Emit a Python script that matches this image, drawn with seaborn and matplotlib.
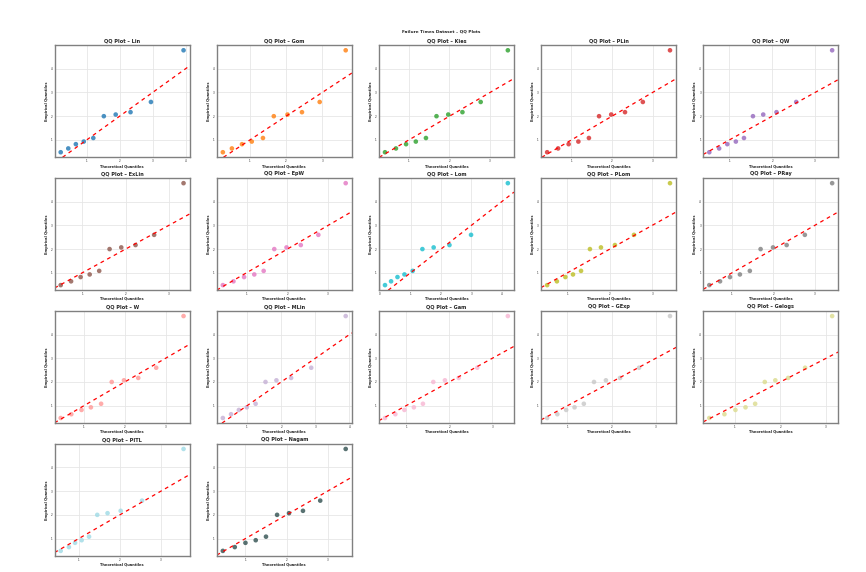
import matplotlib
matplotlib.use("Agg")
import matplotlib.pyplot as plt
import seaborn as sns
import pandas as pd
from matplotlib.ticker import MultipleLocator

# sorted failure times (empirical quantiles, same for every model)
empirical = [0.48, 0.64, 0.82, 0.93, 1.08, 2.00, 2.07, 2.17, 2.60, 4.78]

models = ["Lin", "Gom", "Kies", "PLin", "QW",
          "ExLin", "EpW", "Lom", "PLom", "PRay",
          "W", "MLin", "Gam", "GExp", "Gelogs",
          "PITL", "Nagam"]

# theoretical quantiles
q_lin = [0.21, 0.44, 0.67, 0.91, 1.20, 1.52, 1.88, 2.33, 2.95, 3.94]
q_gom = [0.25, 0.50, 0.78, 1.05, 1.36, 1.66, 2.04, 2.44, 2.93, 3.65]
q_kies = [0.41, 0.68, 0.93, 1.17, 1.42, 1.68, 1.97, 2.32, 2.77, 3.44]
q_plin = [0.40, 0.67, 0.93, 1.17, 1.43, 1.68, 1.98, 2.32, 2.76, 3.43]
q_qw = [0.53, 0.76, 0.95, 1.15, 1.34, 1.55, 1.79, 2.10, 2.56, 3.40]
q_exlin = [0.50, 0.74, 0.96, 1.17, 1.39, 1.63, 1.90, 2.23, 2.66, 3.34]
q_epw = [0.42, 0.68, 0.94, 1.19, 1.42, 1.68, 1.98, 2.33, 2.76, 3.43]
q_lom = [0.16, 0.36, 0.57, 0.80, 1.07, 1.39, 1.76, 2.28, 2.99, 4.20]
q_plom = [0.52, 0.75, 0.95, 1.13, 1.32, 1.53, 1.79, 2.12, 2.57, 3.42]
q_pray = [0.45, 0.71, 0.95, 1.19, 1.43, 1.69, 1.99, 2.32, 2.76, 3.42]
q_w = [0.43, 0.69, 0.94, 1.17, 1.42, 1.68, 1.98, 2.33, 2.77, 3.44]
q_mlin = [0.29, 0.53, 0.76, 0.99, 1.25, 1.54, 1.86, 2.29, 2.88, 3.89]
q_gam = [0.51, 0.75, 0.96, 1.18, 1.39, 1.63, 1.90, 2.22, 2.65, 3.36]
q_gexp = [0.54, 0.77, 0.97, 1.16, 1.37, 1.60, 1.87, 2.19, 2.62, 3.32]
q_gelogs = [0.45, 0.78, 1.02, 1.24, 1.45, 1.66, 1.89, 2.17, 2.54, 3.13]
q_pitl = [0.56, 0.76, 0.91, 1.07, 1.25, 1.45, 1.70, 2.02, 2.54, 3.55]
q_nagam = [0.45, 0.74, 1.00, 1.25, 1.50, 1.77, 2.06, 2.40, 2.82, 3.44]

theoretical = [q_lin, q_gom, q_kies, q_plin, q_qw,
               q_exlin, q_epw, q_lom, q_plom, q_pray,
               q_w, q_mlin, q_gam, q_gexp, q_gelogs,
               q_pitl, q_nagam]

colors = ["#1f77b4", "#ff7f0e", "#2ca02c", "#d62728", "#9467bd",
          "#8c564b", "#e377c2", "#17becf", "#bcbd22", "#7f7f7f",
          "#ff9896", "#c5b0d5", "#f7b6d2", "#c7c7c7", "#dbdb8d",
          "#9edae5", "#2f4f4f"]

sns.set_theme(style="whitegrid")
plt.rcParams['font.family'] = ['DejaVu Sans']

fig, axes = plt.subplots(4, 5, figsize=(8.66, 5.72), dpi=100)
fig.subplots_adjust(left=0.063, right=0.968, top=0.921, bottom=0.028,
                    wspace=0.2, hspace=0.185)
axes = axes.flatten()

for i, name in enumerate(models):
    ax = axes[i]
    df = pd.DataFrame({"theo": theoretical[i], "emp": empirical})
    sns.scatterplot(data=df, x="theo", y="emp", color=colors[i], s=11,
                    alpha=0.8, edgecolor="none", ax=ax)
    # keep limits from the points only, the reference line must not stretch them
    xlim, ylim = ax.get_xlim(), ax.get_ylim()
    ax.axline((0, 0), slope=1, color="red", linestyle=(0, (3, 3)), linewidth=0.9)
    ax.set_xlim(xlim)
    ax.set_ylim(ylim)
    ax.set_title(f"QQ Plot – {name}", fontsize=3.6, fontweight="bold", pad=2)
    ax.set_xlabel("Theoretical Quantiles", fontsize=2.6, fontweight="bold", labelpad=0.5)
    ax.set_ylabel("Empirical Quantiles", fontsize=2.6, fontweight="bold", labelpad=1.5)
    ax.xaxis.set_major_locator(MultipleLocator(1))
    ax.yaxis.set_major_locator(MultipleLocator(1))
    ax.tick_params(labelsize=2, pad=1.5, length=0)
    ax.grid(color="#e6e6e6", linewidth=0.6)
    for sp in ax.spines.values():
        sp.set_edgecolor("#808080")
        sp.set_linewidth(1.0)

for ax in axes[len(models):]:
    ax.remove()

fig.suptitle("Failure Times Dataset – QQ Plots", fontsize=3.1, fontweight="bold",
             x=0.51, y=0.948)

plt.savefig("out.png", dpi=100)
